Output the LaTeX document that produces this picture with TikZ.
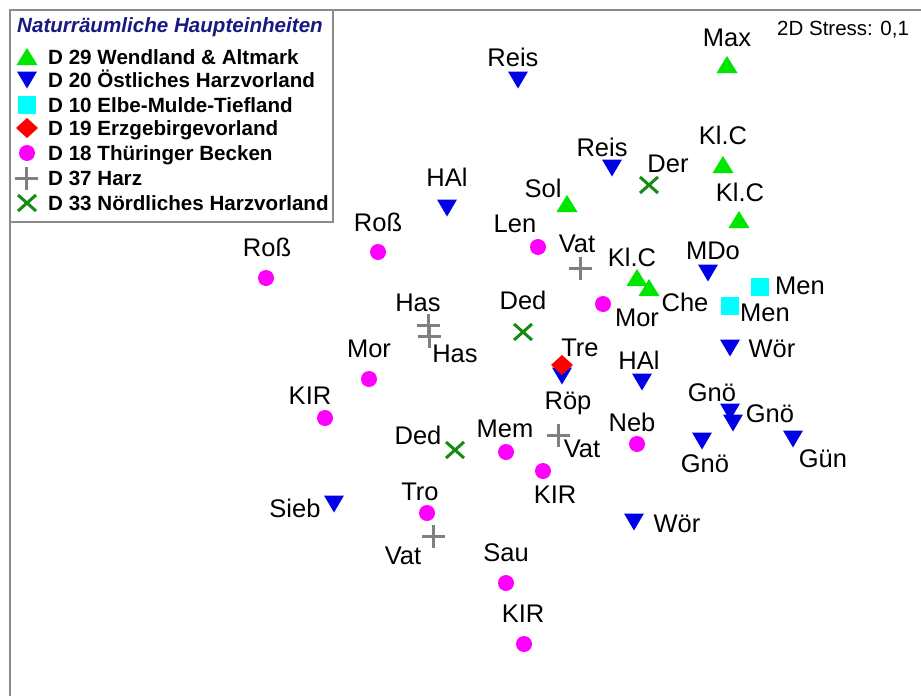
\documentclass[tikz,border=0pt]{standalone}
\usepackage{fontspec}
\setmainfont{Liberation Sans}
\definecolor{cG}{RGB}{0,230,0}
\definecolor{cB}{RGB}{0,0,230}
\definecolor{cC}{RGB}{0,255,255}
\definecolor{cR}{RGB}{255,0,0}
\definecolor{cM}{RGB}{255,0,255}
\definecolor{cP}{RGB}{128,128,128}
\definecolor{cX}{RGB}{20,140,20}
\definecolor{cT}{RGB}{25,25,130}
\definecolor{cF}{RGB}{140,140,140}
\newcommand\mUp[2]{\fill[cG,shift={(#1,#2)}] (-10.5,8) -- (10.5,8) -- (0,-9) -- cycle;}
\newcommand\mDn[2]{\fill[cB,shift={(#1,#2)}] (-10,-8.5) -- (10,-8.5) -- (0,8.5) -- cycle;}
\newcommand\mSq[2]{\fill[cC,shift={(#1,#2)}] (-8.7,-8.7) rectangle (8.7,8.7);}
\newcommand\mDi[2]{\fill[cR,shift={(#1,#2)}] (-11,0) -- (0,-10) -- (11,0) -- (0,10) -- cycle;}
\newcommand\mDot[2]{\fill[cM] (#1,#2) circle[radius=8pt];}
\newcommand\mPl[2]{\draw[cP,line width=3pt,shift={(#1,#2)}] (-11.5,0) -- (11.5,0) (0,-11.5) -- (0,11.5);}
\newcommand\mX[2]{\draw[cX,line width=3pt,shift={(#1,#2)}] (-9,-8) -- (9,8) (-9,8) -- (9,-8);}
\newcounter{lc}
\newcommand\lab[3]{\stepcounter{lc}\node[lbl] (lab\arabic{lc}) at (#1,{#2+9}) {#3};}
\newcounter{gc}
\newcommand\leg[2]{\stepcounter{gc}\node[legtxt] (leg\arabic{gc}) at (48,{#1+7.3}) {#2};}
\tikzset{
  lbl/.style={anchor=base,inner sep=0pt,font=\fontsize{25.5}{30}\selectfont},
  legtxt/.style={anchor=base west,inner sep=0pt,font=\fontsize{20.6}{24}\selectfont\bfseries}
}
\begin{document}
\begin{tikzpicture}[x=1pt,y=-1pt]
\useasboundingbox (0,0) rectangle (921,696);
\fill[white] (0,0) rectangle (921,696);
% frame
\draw[cF,line width=2pt] (10,696) -- (10,10) -- (921,10);
% legend
\draw[cF,line width=1.2pt] (10,10) rectangle (333,222);
\node[anchor=base west,inner sep=0pt,text=cT,font=\fontsize{20.6}{24}\selectfont\bfseries\itshape] (title) at (17,32) {Naturräumliche Haupteinheiten};
\mUp{27}{57}   \leg{57}{D 29 Wendland \& Altmark}
\mDn{27}{80}   \leg{80}{D 20 Östliches Harzvorland}
\mSq{27}{105}  \leg{105}{D 10 Elbe-Mulde-Tiefland}
\mDi{27}{128}  \leg{128}{D 19 Erzgebirgevorland}
\mDot{27}{153} \leg{153}{D 18 Thüringer Becken}
\mPl{26}{178}  \leg{178}{D 37 Harz}
\mX{27}{203}   \leg{203}{D 33 Nördliches Harzvorland}
% stress
\node[anchor=base west,inner sep=0pt,font=\fontsize{20.5}{24}\selectfont] (stress) at (777,35) {2D Stress: 0,1};
% markers: green up
\mUp{727}{65} \mUp{723}{165} \mUp{567}{204} \mUp{739}{220}
\mUp{637}{278} \mUp{649}{288}
% blue down
\mDn{518}{80} \mDn{612}{168} \mDn{447}{208} \mDn{708}{273}
\mDn{730}{348} \mDn{642}{382} \mDn{562}{376}
\mDn{730}{412} \mDn{733}{423} \mDn{702}{441} \mDn{793}{439}
\mDn{334}{504} \mDn{634}{522}
% cyan squares
\mSq{760}{287} \mSq{730}{306}
% red diamond
\mDi{562}{365}
% magenta dots
\mDot{538}{247} \mDot{378}{252} \mDot{266}{278} \mDot{603}{304}
\mDot{369}{379} \mDot{325}{418} \mDot{637}{444} \mDot{506}{452}
\mDot{543}{471} \mDot{427}{513} \mDot{506}{583} \mDot{524}{644}
% gray plus
\mPl{580}{268} \mPl{428}{325} \mPl{429}{336} \mPl{558}{435} \mPl{433}{536}
% green x
\mX{649}{185} \mX{523}{332} \mX{455}{450}
% labels
\lab{727}{37}{Max}
\lab{513}{57}{Reis}
\lab{723}{135}{Kl.C}
\lab{602}{147}{Reis}
\lab{668}{163}{Der}
\lab{447}{177}{HAl}
\lab{543}{188}{Sol}
\lab{740}{192}{Kl.C}
\lab{515}{223}{Len}
\lab{378}{222}{Roß}
\lab{267}{247}{Roß}
\lab{577}{243}{Vat}
\lab{632}{257}{Kl.C}
\lab{713}{250}{MDo}
\lab{800}{285}{Men}
\lab{685}{302}{Che}
\lab{765}{312}{Men}
\lab{523}{300}{Ded}
\lab{418}{302}{Has}
\lab{455}{353}{Has}
\lab{637}{317}{Mor}
\lab{369}{348}{Mor}
\lab{580}{347}{Tre}
\lab{639}{360}{HAl}
\lab{772}{348}{Wör}
\lab{568}{400}{Röp}
\lab{310}{395}{KIR}
\lab{712}{392}{Gnö}
\lab{770}{413}{Gnö}
\lab{705}{463}{Gnö}
\lab{823}{458}{Gün}
\lab{632}{422}{Neb}
\lab{505}{428}{Mem}
\lab{418}{435}{Ded}
\lab{582}{448}{Vat}
\lab{555}{494}{KIR}
\lab{295}{508}{Sieb}
\lab{420}{491}{Tro}
\lab{677}{523}{Wör}
\lab{403}{555}{Vat}
\lab{506}{552}{Sau}
\lab{523}{613}{KIR}
\end{tikzpicture}
\end{document}
